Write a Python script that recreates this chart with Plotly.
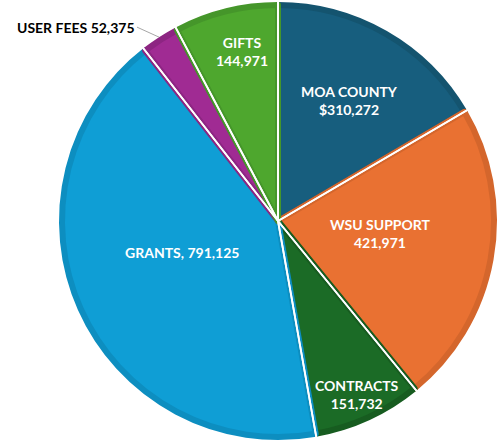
import math
import plotly.graph_objects as go

categories = ["MOA COUNTY", "WSU SUPPORT", "CONTRACTS", "GRANTS", "USER FEES", "GIFTS"]
values = [310272, 421971, 151732, 791125, 52375, 144971]
label_texts = ["MOA COUNTY<br>$310,272", "WSU SUPPORT<br>421,971", "CONTRACTS<br>151,732",
               "GRANTS, 791,125", "USER FEES 52,375", "GIFTS<br>144,971"]

fill_colors = ["#175E7E", "#E97132", "#1B6B26", "#0F9ED5", "#A02B93", "#4EA72E"]
edge_colors = ["#14546F", "#D4662C", "#175C20", "#0D8EC0", "#8D2582", "#45962A"]
label_radius = [0.64, 0.47, 0.87, 0.46, None, 0.79]
label_dtheta = [1, -3.5, 0, 6, 0, 2]

W, H = 504, 446
cx, cy, R = 278, 221, 219


def domain(r):
    return dict(x=[max(0, (cx - r) / W), min(1, (cx + r) / W)],
                y=[max(0, 1 - (cy + r) / H), min(1, 1 - (cy - r) / H)])


fig = go.Figure()
fig.add_trace(go.Pie(
    labels=categories, values=values, sort=False, direction="clockwise", rotation=0,
    marker=dict(colors=fill_colors, line=dict(color=edge_colors, width=6)),
    textinfo="none", hoverinfo="label+value", domain=domain(R - 3),
    showlegend=False,
))
fig.add_trace(go.Pie(
    labels=categories, values=values, sort=False, direction="clockwise", rotation=0,
    marker=dict(colors=["rgba(0,0,0,0)"] * len(values), line=dict(color="white", width=1.8)),
    textinfo="none", hoverinfo="skip", domain=domain(R + 2),
    showlegend=False,
))

total = sum(values)
cum = 0
annotations = []
for cat, v, txt, rf, dt in zip(categories, values, label_texts, label_radius, label_dtheta):
    mid = (cum + v / 2) / total * 2 * math.pi
    cum += v
    if rf is not None:
        a = mid + math.radians(dt)
        px = cx + rf * R * math.sin(a)
        py = cy - rf * R * math.cos(a)
        annotations.append(dict(
            x=px / W, y=1 - py / H, xref="paper", yref="paper", text=txt, showarrow=False,
            font=dict(family="Lato", size=14, color="white", weight="bold"),
            align="center", xanchor="center", yanchor="middle",
        ))
    else:
        ex = cx + 1.0 * R * math.sin(mid)
        ey = cy - 1.0 * R * math.cos(mid)
        annotations.append(dict(
            x=ex / W, y=1 - ey / H, xref="paper", yref="paper", text="<b>" + txt + "</b>",
            showarrow=True, arrowhead=0, arrowwidth=1, arrowcolor="#A6A6A6",
            ax=-22, ay=-10, xanchor="right", yanchor="middle",
            font=dict(family="Lato", size=14, color="#000000"),
        ))

fig.update_layout(
    width=W, height=H, margin=dict(l=0, r=0, t=0, b=0),
    paper_bgcolor="white", plot_bgcolor="white",
    annotations=annotations,
)
fig.write_html("out.html", config={"displayModeBar": False},
               post_script="document.body.style.margin='0';")
